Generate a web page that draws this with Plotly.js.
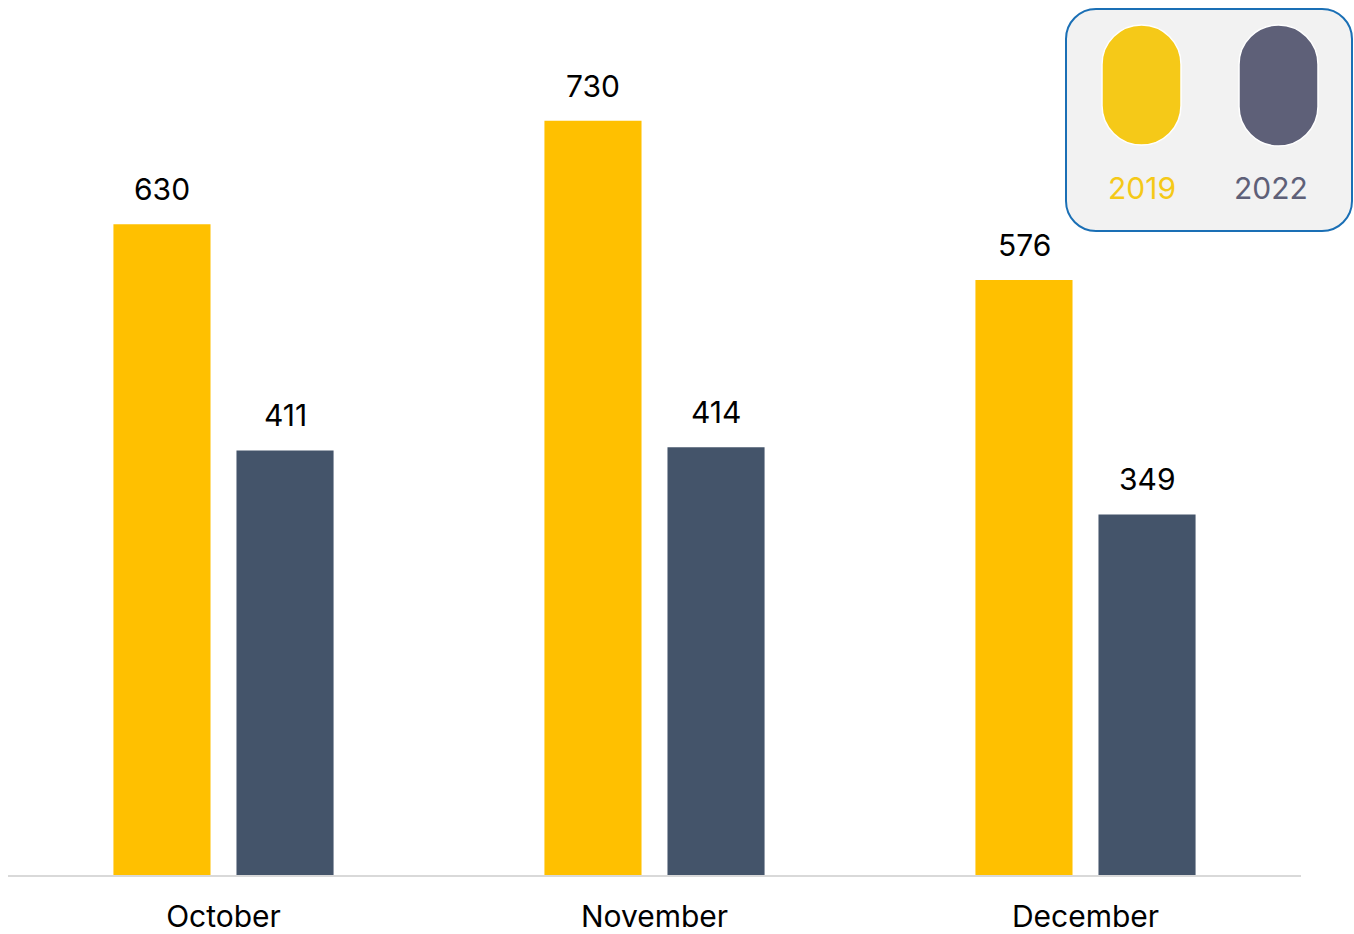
<!DOCTYPE html>
<html><head><meta charset="utf-8">
<script src="https://cdn.plot.ly/plotly-3.0.1.min.js"></script>
<style>html,body{margin:0;padding:0;background:#fff}#chart{width:1354px;height:934px}</style>
</head><body><div id="chart"></div>
<script>
const months = ["October", "November", "December"];
const series2019 = [630, 730, 576];
const series2022 = [411, 414, 349];
const seriesNames = ["2019", "2022"];
const barColors = ["#FFC000", "#44546A"];
const legendPillColors = ["#F5C918", "#5E6078"];

const W = 1354, H = 934;
const M = {l: 8, r: 53, t: 0, b: 59};
const pw = W - M.l - M.r, ph = H - M.t - M.b;
const fx = px => (px - M.l) / pw;
const fy = py => (H - M.b - py) / ph;

function roundRect(x0, y0, x1, y1, r) {
  const k = 0.5523 * r;
  const P = (x, y) => fx(x) + ',' + fy(y);
  return 'M' + P(x0 + r, y0) + ' L' + P(x1 - r, y0) +
    ' C' + P(x1 - r + k, y0) + ' ' + P(x1, y0 + r - k) + ' ' + P(x1, y0 + r) +
    ' L' + P(x1, y1 - r) +
    ' C' + P(x1, y1 - r + k) + ' ' + P(x1 - r + k, y1) + ' ' + P(x1 - r, y1) +
    ' L' + P(x0 + r, y1) +
    ' C' + P(x0 + r - k, y1) + ' ' + P(x0, y1 - r + k) + ' ' + P(x0, y1 - r) +
    ' L' + P(x0, y0 + r) +
    ' C' + P(x0, y0 + r - k) + ' ' + P(x0 + r - k, y0) + ' ' + P(x0 + r, y0) + ' Z';
}

const font = "Inter, 'Open Sans', sans-serif";

const traces = [series2019, series2022].map((vals, i) => ({
  type: 'bar', x: months, y: vals, name: seriesNames[i],
  marker: {color: barColors[i]}, hoverinfo: 'x+y'
}));

const annotations = [];
[series2019, series2022].forEach((vals, i) => {
  vals.forEach((v, j) => {
    annotations.push({
      xref: 'x', yref: 'y', x: months[j], y: v, text: String(v),
      showarrow: false, yanchor: 'bottom', yshift: 15, xshift: i === 0 ? -61.5 : 61.5,
      font: {family: font, size: 30, color: '#000'}
    });
  });
});

const shapes = [
  {type: 'path', xref: 'paper', yref: 'paper', path: roundRect(1066, 9, 1352, 231, 30),
   fillcolor: '#F2F2F2', line: {color: '#1A6FB5', width: 2}, layer: 'above'},
  {type: 'path', xref: 'paper', yref: 'paper', path: roundRect(1102, 25, 1181, 145, 39.5),
   fillcolor: legendPillColors[0], line: {color: '#ffffff', width: 1.5}, layer: 'above'},
  {type: 'path', xref: 'paper', yref: 'paper', path: roundRect(1239, 25, 1318, 146, 39.5),
   fillcolor: legendPillColors[1], line: {color: '#ffffff', width: 1.5}, layer: 'above'}
];
annotations.push(
  {xref: 'paper', yref: 'paper', x: fx(1141.5), y: fy(188), text: seriesNames[0], showarrow: false,
   xanchor: 'center', yanchor: 'middle', font: {family: font, size: 30, color: legendPillColors[0]}},
  {xref: 'paper', yref: 'paper', x: fx(1271), y: fy(188), text: seriesNames[1], showarrow: false,
   xanchor: 'center', yanchor: 'middle', font: {family: font, size: 30, color: legendPillColors[1]}}
);

const layout = {
  width: W, height: H, margin: M,
  paper_bgcolor: '#fff', plot_bgcolor: '#fff',
  showlegend: false, barmode: 'group', bargap: 0.429, bargroupgap: 0.211,
  xaxis: {type: 'category', showline: true, linecolor: '#D9D9D9', linewidth: 2,
          ticks: '', ticklabelstandoff: 14, showgrid: false, zeroline: false,
          tickfont: {family: font, size: 30, color: '#000'}},
  yaxis: {range: [0, 847], visible: false, showgrid: false, zeroline: false},
  annotations: annotations, shapes: shapes
};

Plotly.newPlot('chart', traces, layout, {displayModeBar: false, staticPlot: true});
</script></body></html>
